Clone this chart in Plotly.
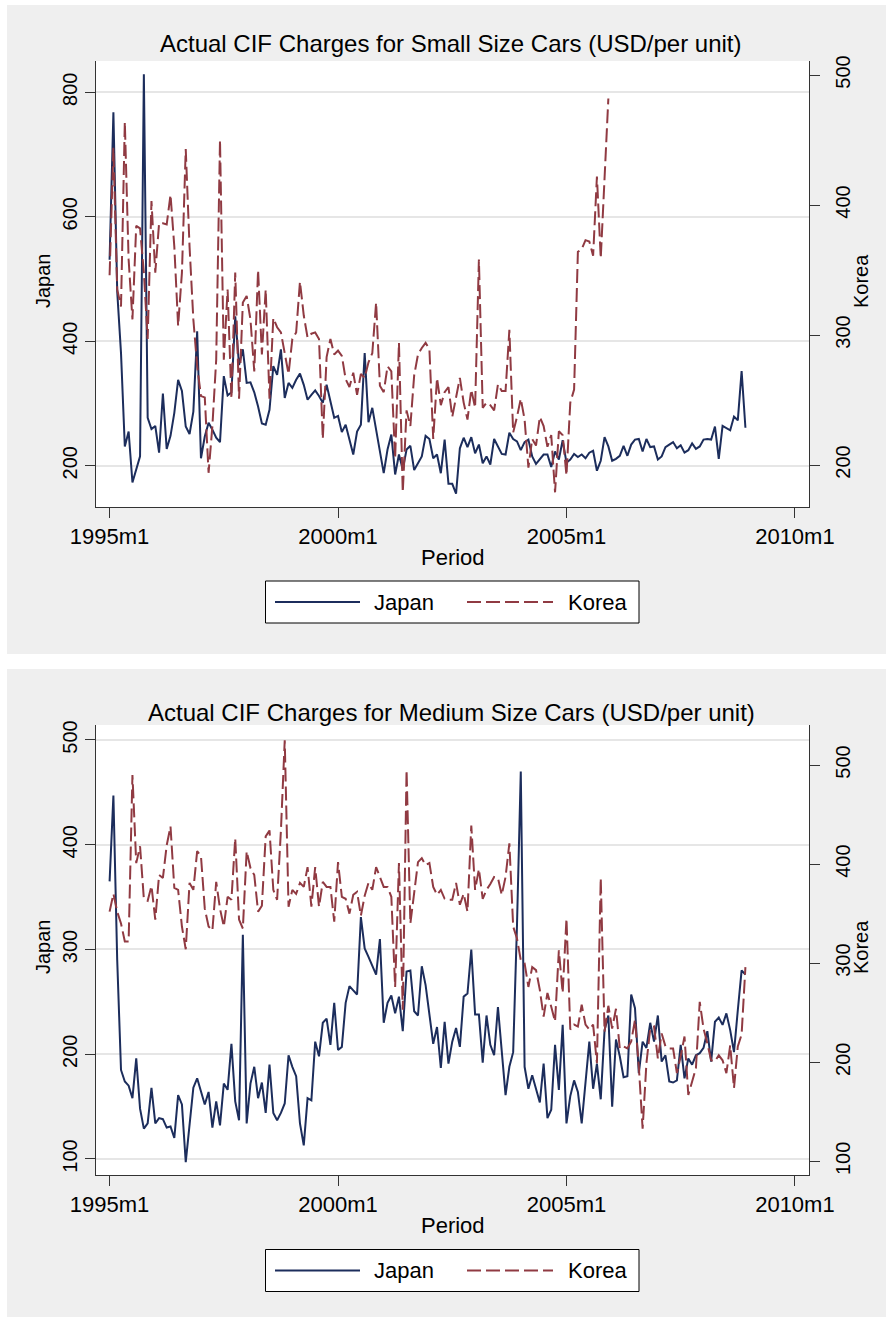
import plotly.graph_objects as go

# ---------------- data ----------------
tick_vals = [0, 60, 120, 180]
tick_text = ["1995m1", "2000m1", "2005m1", "2010m1"]

months_all = list(range(168))      # 1995m1 .. 2008m12 (month index from 1995m1)
months_kr_small = list(range(132)) # 1995m1 .. 2005m12

japan_small = [
    531, 768, 480, 381, 231, 255, 173, 194, 215, 829,
    277, 259, 264, 221, 316, 227, 248, 285, 338, 320,
    263, 251, 287, 416, 212, 247, 269, 258, 245, 238,
    344, 313, 318, 440, 362, 387, 333, 334, 318, 295,
    268, 266, 290, 360, 346, 387, 309, 333, 325, 338,
    348, 330, 306, 314, 321, 312, 301, 330, 301, 277,
    280, 254, 266, 242, 218, 255, 266, 381, 270, 293,
    261, 223, 188, 226, 250, 186, 218, 194, 226, 232,
    193, 204, 215, 248, 243, 212, 218, 188, 242, 171,
    171, 155, 228, 245, 230, 246, 220, 234, 204, 215,
    202, 243, 231, 219, 218, 253, 243, 239, 225, 238,
    242, 215, 203, 210, 218, 218, 198, 223, 210, 241,
    205, 210, 219, 214, 218, 212, 221, 224, 192, 208,
    246, 231, 208, 211, 216, 232, 216, 234, 242, 243,
    223, 243, 230, 231, 210, 215, 230, 234, 238, 228,
    233, 221, 225, 236, 227, 231, 242, 243, 242, 263,
    211, 264, 261, 257, 279, 273, 352, 261,
]

korea_small = [
    346, 444, 335, 322, 464, 358, 312, 384, 382, 348,
    297, 403, 348, 386, 386, 385, 408, 368, 307, 348,
    443, 368, 312, 276, 253, 252, 194, 230, 281, 450,
    281, 335, 251, 348, 251, 325, 330, 312, 272, 350,
    285, 335, 251, 313, 306, 302, 286, 270, 297, 302,
    341, 315, 298, 301, 302, 297, 220, 283, 297, 285,
    288, 284, 266, 260, 271, 254, 270, 267, 279, 286,
    325, 261, 256, 276, 272, 205, 294, 179, 242, 230,
    269, 285, 290, 294, 289, 220, 267, 246, 256, 260,
    237, 251, 267, 248, 235, 258, 244, 358, 244, 248,
    246, 242, 262, 257, 257, 304, 225, 237, 251, 235,
    198, 220, 215, 237, 230, 214, 223, 179, 226, 223,
    192, 248, 258, 364, 366, 373, 372, 361, 422, 359,
    419, 482,
]

japan_medium = [
    365, 447, 290, 185, 174, 170, 158, 196, 148, 129,
    134, 168, 134, 139, 138, 130, 131, 120, 161, 152,
    97, 136, 168, 177, 164, 152, 164, 130, 155, 132,
    172, 166, 210, 155, 137, 314, 134, 172, 188, 158,
    173, 144, 190, 144, 137, 144, 153, 199, 188, 179,
    134, 113, 158, 156, 212, 198, 230, 234, 209, 249,
    204, 207, 249, 265, 261, 257, 331, 301, 293, 285,
    276, 310, 230, 249, 256, 239, 255, 222, 279, 280,
    241, 237, 284, 266, 239, 210, 226, 187, 231, 191,
    212, 225, 207, 255, 258, 300, 238, 238, 192, 237,
    209, 199, 245, 204, 161, 188, 202, 323, 470, 188,
    167, 180, 166, 154, 191, 139, 147, 209, 166, 228,
    134, 160, 175, 164, 134, 174, 212, 167, 191, 157,
    223, 237, 150, 214, 198, 178, 179, 257, 244, 182,
    212, 206, 230, 212, 237, 193, 199, 174, 173, 175,
    209, 177, 196, 190, 199, 201, 206, 222, 193, 231,
    235, 228, 239, 223, 202, 242, 280, 276,
]

korea_medium = [
    352, 370, 352, 340, 322, 322, 490, 401, 418, 365,
    363, 378, 344, 389, 386, 419, 438, 376, 374, 337,
    314, 381, 374, 413, 408, 355, 337, 333, 382, 355,
    337, 367, 364, 426, 344, 335, 413, 396, 389, 352,
    358, 428, 434, 374, 364, 434, 525, 357, 374, 370,
    381, 377, 397, 357, 397, 357, 382, 377, 377, 342,
    402, 367, 365, 350, 369, 372, 348, 368, 381, 374,
    397, 387, 377, 377, 367, 276, 401, 253, 495, 340,
    374, 402, 406, 399, 401, 377, 369, 374, 365, 364,
    364, 381, 359, 370, 352, 439, 374, 395, 365, 374,
    380, 387, 386, 369, 387, 421, 337, 325, 303, 300,
    276, 296, 293, 273, 246, 270, 256, 241, 313, 270,
    345, 233, 238, 236, 258, 238, 233, 238, 199, 386,
    231, 257, 234, 254, 214, 216, 214, 221, 243, 196,
    133, 199, 234, 236, 204, 229, 216, 214, 214, 189,
    206, 226, 167, 180, 194, 261, 234, 219, 202, 201,
    207, 202, 189, 217, 174, 216, 228, 296,
]

japan_ticks_small = [200, 400, 600, 800]
korea_ticks_small = [200, 300, 400, 500]
japan_ticks_medium = [100, 200, 300, 400, 500]
korea_ticks_medium = [100, 200, 300, 400, 500]

title_small = "Actual CIF Charges for Small Size Cars (USD/per unit)"
title_medium = "Actual CIF Charges for Medium Size Cars (USD/per unit)"
series_names = ["Japan", "Korea"]

# ---------------- styling ----------------
W, H = 886, 1317
NAVY = "#1c2d5c"
MAROON = "#903a42"
GRAY_BG = "#efefef"
GRID = "#e6e6e6"
AXIS = "#333333"
FONT = "Liberation Sans, Arial, Helvetica, sans-serif"
KDASH = "14px,5px"


def px(x):
    return x / W


def py(y):
    return 1 - y / H


# plot area pixel boxes (left, top, right, bottom)
P1 = (96, 61, 809, 507)
P2 = (96, 725, 809, 1175)

fig = go.Figure()

fig.add_trace(go.Scatter(x=months_all, y=japan_small, mode="lines", name="Japan",
                         line=dict(color=NAVY, width=2), xaxis="x", yaxis="y", showlegend=False))
fig.add_trace(go.Scatter(x=months_kr_small, y=korea_small, mode="lines", name="Korea",
                         line=dict(color=MAROON, width=2, dash=KDASH), xaxis="x", yaxis="y2",
                         showlegend=False))
fig.add_trace(go.Scatter(x=months_all, y=japan_medium, mode="lines", name="Japan",
                         line=dict(color=NAVY, width=2), xaxis="x2", yaxis="y3", showlegend=False))
fig.add_trace(go.Scatter(x=months_all, y=korea_medium, mode="lines", name="Korea",
                         line=dict(color=MAROON, width=2, dash=KDASH), xaxis="x2", yaxis="y4",
                         showlegend=False))

tickfont_x = dict(family=FONT, size=22, color="black")
tickfont_y = dict(family=FONT, size=20, color="black")

xcommon = dict(range=[-3.57, 183.7], tickmode="array", tickvals=tick_vals, ticktext=tick_text,
               ticks="outside", ticklen=10, tickwidth=1, tickcolor=AXIS, showline=True,
               linecolor=AXIS, linewidth=1, showgrid=False, zeroline=False, tickfont=tickfont_x,
               fixedrange=True, automargin=False)
ycommon = dict(tickmode="array", ticks="outside", ticklen=10, tickwidth=1, tickcolor=AXIS,
               showline=True, linecolor=AXIS, linewidth=1, zeroline=False, tickangle=-90,
               tickfont=tickfont_y, fixedrange=True, automargin=False)

fig.update_layout(
    xaxis=dict(domain=[px(P1[0]), px(P1[2])], anchor="y", **xcommon),
    yaxis=dict(domain=[py(P1[3]), py(P1[1])], anchor="x", range=[133.7, 850.3],
               tickvals=japan_ticks_small, showgrid=True, gridcolor=GRID, gridwidth=1.5,
               **ycommon),
    yaxis2=dict(overlaying="y", side="right", anchor="x", range=[167.7, 510.8],
                tickvals=korea_ticks_small, showgrid=False, ticklabelstandoff=6, **ycommon),
    xaxis2=dict(domain=[px(P2[0]), px(P2[2])], anchor="y3", **xcommon),
    yaxis3=dict(domain=[py(P2[3]), py(P2[1])], anchor="x2", range=[84.7, 514.3],
                tickvals=japan_ticks_medium, showgrid=True, gridcolor=GRID, gridwidth=1.5,
                **ycommon),
    yaxis4=dict(overlaying="y3", side="right", anchor="x2", range=[86.2, 540.4],
                tickvals=korea_ticks_medium, showgrid=False, ticklabelstandoff=6, **ycommon),
)

shapes = []
# gray panel backgrounds
for (t, b) in [(5, 654), (669, 1317)]:
    shapes.append(dict(type="rect", xref="paper", yref="paper", x0=px(7), x1=px(886),
                       y0=py(b), y1=py(t), fillcolor=GRAY_BG, line=dict(width=0), layer="below"))
# white plot regions
for P in (P1, P2):
    shapes.append(dict(type="rect", xref="paper", yref="paper", x0=px(P[0]), x1=px(P[2]),
                       y0=py(P[3]), y1=py(P[1]), fillcolor="white", line=dict(width=0),
                       layer="below"))

annotations = []
legend_centers = [602, 1270.5]
titles = [title_small, title_medium]
title_y = [43, 712]
period_y = [557, 1225]
for i, P in enumerate((P1, P2)):
    cx = (P[0] + P[2]) / 2
    cy = (P[1] + P[3]) / 2 - 3
    annotations.append(dict(text=titles[i], xref="paper", yref="paper", x=px(451), y=py(title_y[i]),
                            xanchor="center", yanchor="middle", showarrow=False,
                            font=dict(family=FONT, size=24, color="black")))
    annotations.append(dict(text="Period", xref="paper", yref="paper", x=px(cx), y=py(period_y[i]),
                            xanchor="center", yanchor="middle", showarrow=False,
                            font=dict(family=FONT, size=22, color="black")))
    annotations.append(dict(text=series_names[0], xref="paper", yref="paper", x=px(43), y=py(cy),
                            xanchor="center", yanchor="middle", textangle=-90, showarrow=False,
                            font=dict(family=FONT, size=20, color="black")))
    annotations.append(dict(text=series_names[1], xref="paper", yref="paper", x=px(861), y=py(cy),
                            xanchor="center", yanchor="middle", textangle=-90, showarrow=False,
                            font=dict(family=FONT, size=20, color="black")))
    # legend box
    lc = legend_centers[i]
    shapes.append(dict(type="rect", xref="paper", yref="paper", x0=px(265.5), x1=px(639),
                       y0=py(lc + 21), y1=py(lc - 21), fillcolor="white",
                       line=dict(color="black", width=1), layer="above"))
    shapes.append(dict(type="line", xref="paper", yref="paper", x0=px(275), x1=px(360),
                       y0=py(lc), y1=py(lc), line=dict(color=NAVY, width=2), layer="above"))
    shapes.append(dict(type="line", xref="paper", yref="paper", x0=px(467), x1=px(553),
                       y0=py(lc), y1=py(lc), line=dict(color=MAROON, width=2, dash=KDASH),
                       layer="above"))
    annotations.append(dict(text=series_names[0], xref="paper", yref="paper", x=px(372), y=py(lc),
                            xanchor="left", yanchor="middle", showarrow=False,
                            font=dict(family=FONT, size=22, color="black")))
    annotations.append(dict(text=series_names[1], xref="paper", yref="paper", x=px(566), y=py(lc),
                            xanchor="left", yanchor="middle", showarrow=False,
                            font=dict(family=FONT, size=22, color="black")))

fig.update_layout(
    width=W, height=H, autosize=False,
    margin=dict(l=0, r=0, t=0, b=0, pad=0),
    paper_bgcolor="white", plot_bgcolor="rgba(0,0,0,0)",
    shapes=shapes, annotations=annotations,
    font=dict(family=FONT, color="black"),
    showlegend=False,
)

fig.write_html("out.html")
